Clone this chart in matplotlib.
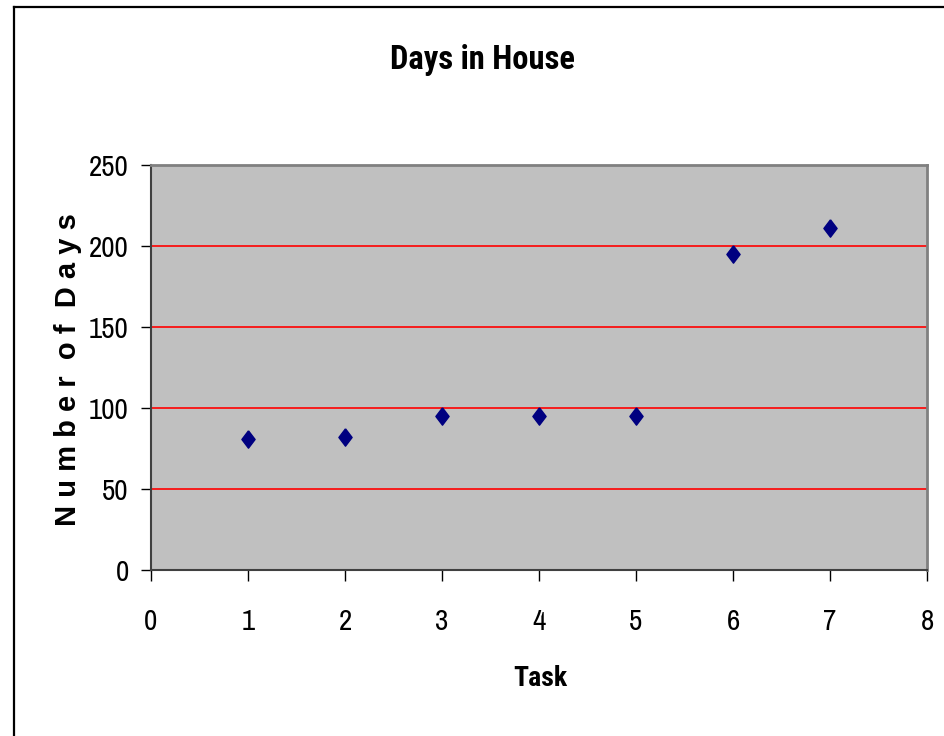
import matplotlib
matplotlib.use("Agg")
import matplotlib.pyplot as plt
from matplotlib.lines import Line2D
from matplotlib import font_manager

task = [1, 2, 3, 4, 5, 6, 7]
days = [81, 82, 95, 95, 95, 195, 211]
x_ticks = [0, 1, 2, 3, 4, 5, 6, 7, 8]
y_ticks = [0, 50, 100, 150, 200, 250]

fl = font_manager.fontManager.ttflist
names = {f.name for f in fl}
bold_names = {f.name for f in fl if f.weight in (700, 'bold') and 'talic' not in f.fname}
cands = ['Nimbus Sans Narrow', 'Liberation Sans Narrow', 'Arial Narrow',
         'Archivo Narrow', 'Roboto Condensed', 'PT Sans Narrow', 'Liberation Sans']
narrow = [n for n in cands if n in names][:1] + ['DejaVu Sans']
bcands = ['Nimbus Sans Narrow', 'Liberation Sans Narrow', 'Arial Narrow',
          'Roboto Condensed', 'Asap Condensed', 'PT Sans Narrow', 'Liberation Sans']
narrow_bold = [n for n in bcands if n in bold_names][:1] + ['DejaVu Sans']
wide = [n for n in ['Arimo', 'Liberation Sans'] if n in names][:1] + ['DejaVu Sans']

fig = plt.figure(figsize=(9.45, 7.36), dpi=100)
W, H = 945, 736
ax = fig.add_axes([151 / W, 1 - 570 / H, (927 - 151) / W, (570 - 165) / H])
ax.set_facecolor('#C0C0C0')

diamond = [(0, 1), (0.76, 0), (0, -1), (-0.76, 0), (0, 1)]
ax.plot(task, days, linestyle='none', marker=diamond, markersize=12.5,
        color='#000080', markeredgecolor='#000080', zorder=5, clip_on=False)

ax.set_xlim(0, 8)
ax.set_ylim(0, 250)
ax.set_xticks(x_ticks)
ax.set_yticks(y_ticks)
ax.set_xticklabels([str(v) for v in x_ticks], family=narrow, fontsize=21)
ax.set_yticklabels([str(v) for v in y_ticks], family=narrow, fontsize=21)
ax.tick_params(axis='y', direction='out', length=7, width=1, color='black', pad=9)
ax.tick_params(axis='x', direction='out', length=8, width=1, color='black', pad=19)

for v in y_ticks[1:-1]:
    ax.axhline(v, color='#FF0000', lw=1.2, zorder=1)

ax.spines['left'].set_color('#404040')
ax.spines['bottom'].set_color('#404040')
ax.spines['left'].set_linewidth(1.5)
ax.spines['bottom'].set_linewidth(1.5)
ax.spines['top'].set_color('#808080')
ax.spines['right'].set_color('#808080')
ax.spines['top'].set_linewidth(2)
ax.spines['right'].set_linewidth(2)

fig.text(483 / W, 1 - 60 / H, 'Days in House', family=narrow_bold, fontsize=23.5,
         fontweight='bold', ha='center', va='center')
fig.text(540 / W, 1 - 678 / H, 'Task', family=narrow_bold, fontsize=20,
         fontweight='bold', ha='center', va='center')
fig.text(68 / W, 1 - 370 / H, 'N u m b e r  o f  D a y s', family=wide,
         fontsize=21, fontweight='bold', ha='center', va='center', rotation=90)

# outer frame (left and top edges visible)
fig.add_artist(Line2D([14 / W, 14 / W], [0, 1 - 7 / H], transform=fig.transFigure,
                      color='black', lw=1.6))
fig.add_artist(Line2D([14 / W, 1], [1 - 7 / H, 1 - 7 / H], transform=fig.transFigure,
                      color='black', lw=1.6))

fig.savefig('out.png', dpi=100)
